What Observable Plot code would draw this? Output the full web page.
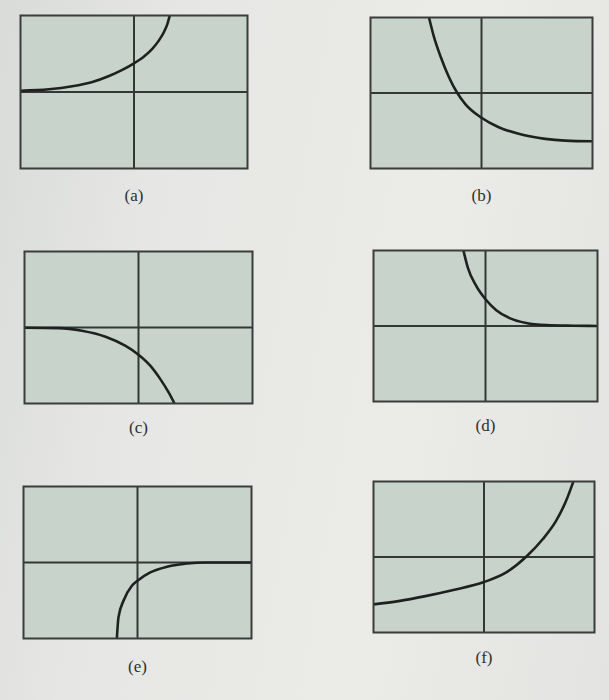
<!DOCTYPE html>
<html>
<head>
<meta charset="utf-8">
<script src="https://cdn.jsdelivr.net/npm/d3@7"></script>
<script src="https://cdn.jsdelivr.net/npm/@observablehq/plot@0.6"></script>
<style>
  html, body { margin: 0; padding: 0; }
  body { width: 609px; height: 700px; overflow: hidden; background: #e6e7e4; }
  #page { position: relative; width: 609px; height: 700px;
    background: linear-gradient(100deg, #d9dbd8 0%, #e6e7e4 25%, #ebebe8 65%, #e3e4e1 100%); }
  #page svg { position: absolute; }
</style>
</head>
<body>
<div id="page"></div>
<script>
// ---- Data (calculator window x,y in [-10, 10]) ----
const panelLabels = ["(a)", "(b)", "(c)", "(d)", "(e)", "(f)"];

const xA = [-10, -7.49, -5.44, -3.67, -2.20, -1.03, 0, 0.88, 1.61, 2.20, 2.64, 2.93, 3.15];
const yA = [0.17, 0.35, 0.75, 1.32, 2.10, 2.90, 3.75, 4.65, 5.65, 6.75, 7.85, 8.85, 10.0];

const xB = [-4.73, -4.29, -3.68, -2.94, -2.18, -1.44, 0, 1.55, 3.35, 5.75, 7.55, 10];
const yB = [10.0, 7.47, 4.80, 2.13, 0, -1.50, -3.28, -4.53, -5.41, -6.08, -6.31, -6.40];

const xC = [-10, -7.02, -4.97, -2.89, -1.17, 0, 1.03, 1.90, 2.63, 3.16];
const yC = [-0.03, -0.08, -0.43, -1.22, -2.40, -3.58, -5.02, -6.76, -8.51, -10.0];

const xD = [-1.97, -1.58, -0.83, 0, 0.96, 2.15, 3.64, 5.43, 7.82, 10];
const yD = [10.0, 7.74, 5.31, 3.54, 2.10, 1.05, 0.40, 0.13, 0.04, 0.0];

const xE = [-1.81, -1.67, -1.23, -0.49, 0, 1.12, 2.59, 4.35, 6.10, 10];
const yE = [-10.0, -7.22, -5.03, -3.06, -2.40, -1.31, -0.56, -0.13, 0.0, 0.0];

const xF = [-10, -7.73, -5.30, -2.87, 0, 1.97, 3.79, 5.31, 6.52, 7.43, 8.09];
const yF = [-6.28, -5.84, -5.18, -4.40, -3.32, -2.08, 0, 2.35, 4.78, 7.44, 10.0];

const seriesX = [xA, xB, xC, xD, xE, xF];
const seriesY = [yA, yB, yC, yD, yE, yF];

// ---- Layout (page pixels): frame left, top, width, height, label offset ----
const layout = [
  {left: 20,  top: 15,  w: 227, h: 153, dy: 32},
  {left: 370, top: 17,  w: 222, h: 151, dy: 32},
  {left: 24,  top: 251, w: 228, h: 152, dy: 29},
  {left: 373, top: 250, w: 224, h: 151, dy: 29},
  {left: 23,  top: 486, w: 228, h: 152, dy: 33},
  {left: 373, top: 481, w: 221, h: 151, dy: 30}
];

const page = document.getElementById("page");
const M = 3; // small margin so strokes at the frame edge are not cut

panelLabels.forEach((label, i) => {
  const L = layout[i];
  const pts = seriesX[i].map((x, j) => ({x, y: seriesY[i][j]}));
  const chart = Plot.plot({
    width: L.w + 2 * M,
    height: L.h + M + 45,
    marginLeft: M,
    marginRight: M,
    marginTop: M,
    marginBottom: 45,
    x: {domain: [-10, 10], axis: null},
    y: {domain: [-10, 10], axis: null},
    style: {background: "transparent", overflow: "visible"},
    marks: [
      Plot.frame({fill: "#c8d3cb", stroke: "none"}),
      Plot.ruleX([0], {stroke: "#343735", strokeWidth: 2}),
      Plot.ruleY([0], {stroke: "#343735", strokeWidth: 2}),
      Plot.line(pts, {x: "x", y: "y", curve: "monotone-x", clip: true,
        stroke: "#1f2120", strokeWidth: 2.6}),
      Plot.frame({stroke: "#3a3d3b", strokeWidth: 2}),
      Plot.text([label], {frameAnchor: "bottom", dy: L.dy, text: d => d,
        fontFamily: "'Liberation Serif', 'DejaVu Serif', serif", fontSize: 17,
        fill: "#2e302f"})
    ]
  });
  chart.style.left = (L.left - M) + "px";
  chart.style.top = (L.top - M) + "px";
  page.appendChild(chart);
});
</script>
</body>
</html>
